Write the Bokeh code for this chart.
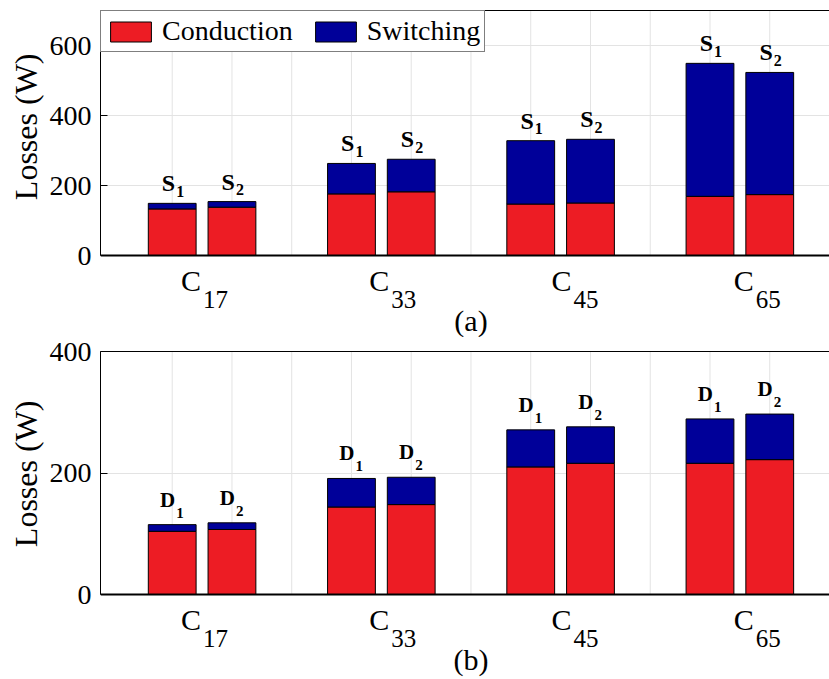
from bokeh.plotting import figure
from bokeh.layouts import column
from bokeh.models import (ColumnDataSource, FixedTicker, LinearAxis, Range1d,
                          Legend, LegendItem, Span, Title)
from bokeh.core.properties import value
from bokeh.embed import file_html
from bokeh.resources import INLINE

FONT = "Liberation Serif"
RED = "#ED1C24"
BLUE = "#000099"
GRID = "#e3e3e3"

# ---- data ----
config_subs = ["17", "33", "45", "65"]          # C_17, C_33, ...
config_tick_x = [1.5, 4.65, 7.7, 10.75]         # x tick positions of the group labels
device_subs = ["1", "2"]

igbt_conduction = [133, 138, 176, 182, 147, 150, 169, 174]
igbt_switching = [16, 16, 87, 93, 181, 182, 380, 349]

diode_conduction = [104, 107, 144, 148, 210, 216, 216, 222]
diode_switching = [11, 11, 47, 45, 61, 60, 73, 75]

legend_labels = ["Conduction", "Switching"]
y_label = "Losses (W)"
y_ticks_a = [0, 200, 400, 600]
y_ticks_b = [0, 200, 400]

bar_x = [3 * g + d + 1 for g in range(len(config_subs)) for d in range(len(device_subs))]
slot_x = list(range(1, 12))


def make_panel(cond, sw, letter, ymax, yticks, panel_text, border_top, plot_px,
               label_px, main_gap, sub_gap, main_size, sub_size, ylabel_offset,
               with_legend):
    ppu = plot_px / ymax                     # pixels per data unit
    ystart = -label_px / ppu
    height = border_top + plot_px + label_px
    p = figure(width=829, height=height, x_range=Range1d(-0.2, 12.0),
               y_range=Range1d(ystart, ymax), output_backend="svg",
               toolbar_location=None, min_border_left=100, min_border_right=0,
               min_border_top=border_top, min_border_bottom=0)
    p.outline_line_color = None
    p.background_fill_color = "white"
    p.border_fill_color = "white"

    total = [c + s for c, s in zip(cond, sw)]
    src = ColumnDataSource(dict(
        x=bar_x, cond=cond, sw=sw, total=total,
        main_y=[t + main_gap / ppu for t in total],
        sub_y=[t + sub_gap / ppu for t in total],
        main=[letter] * len(bar_x),
        sub=device_subs * len(config_subs),
    ))

    # vertical grid lines (only over the data area)
    p.segment(x0=slot_x, y0=[0] * len(slot_x), x1=slot_x, y1=[ymax] * len(slot_x),
              line_color=GRID, line_width=1, level="underlay")

    rs = p.vbar_stack(["cond", "sw"], x="x", width=0.8, source=src,
                      fill_color=[RED, BLUE], line_color="black", line_width=1)

    # bar labels (S1, S2 / D1, D2)
    p.text(x="x", y="main_y", text="main", source=src, text_align="right",
           text_baseline="alphabetic", x_offset=3,
           text_font=value(FONT), text_font_style="bold", text_font_size=main_size,
           text_color="black")
    p.text(x="x", y="sub_y", text="sub", source=src, text_align="left",
           text_baseline="alphabetic", x_offset=4,
           text_font=value(FONT), text_font_style="bold", text_font_size=sub_size,
           text_color="black")

    # x-axis baseline
    p.add_layout(Span(location=0, dimension="width", line_color="black", line_width=2))

    # group labels C_xx (inside the extended frame, below the baseline)
    gsrc = ColumnDataSource(dict(
        x=config_tick_x, main=["C"] * len(config_subs), sub=config_subs,
        main_y=[-25 / ppu] * len(config_subs), sub_y=[-44 / ppu] * len(config_subs),
    ))
    p.text(x="x", y="main_y", text="main", source=gsrc, text_align="right",
           text_baseline="alphabetic", x_offset=-1, text_font=value(FONT),
           text_font_size="30px", text_color="black")
    p.text(x="x", y="sub_y", text="sub", source=gsrc, text_align="left",
           text_baseline="alphabetic", x_offset=1, text_font=value(FONT),
           text_font_size="25px", text_color="black")

    # panel caption (a)/(b)
    p.text(x=[6], y=[-65 / ppu], text=[panel_text], text_align="center",
           text_baseline="alphabetic", text_font=value(FONT),
           text_font_size="30px", text_color="black")

    # y axis
    ya = p.yaxis[0]
    ya.ticker = FixedTicker(ticks=yticks)
    ya.bounds = (0, ymax)
    ya.major_tick_in = 7
    ya.major_tick_out = 0
    ya.major_tick_line_color = "black"
    ya.minor_tick_line_color = None
    ya.axis_line_color = "black"
    ya.axis_line_width = 1
    ya.major_label_text_font = FONT
    ya.major_label_text_font_size = "28px"
    ya.major_label_text_color = "black"
    ya.major_label_standoff = 9

    # y label as a side title (serif, positioned over the data area)
    p.add_layout(Title(text=y_label, align="right", offset=ylabel_offset,
                       text_font=FONT, text_font_size="32px",
                       text_font_style="normal", text_color="black",
                       standoff=5), "left")

    p.xaxis.visible = False
    p.xgrid.visible = False
    p.ygrid.grid_line_color = GRID

    top = LinearAxis(ticker=FixedTicker(ticks=[]), axis_line_color="black",
                     axis_line_width=1, major_tick_line_color=None,
                     minor_tick_line_color=None, major_label_standoff=0,
                     major_label_text_font_size="0px")
    p.add_layout(top, "above")

    if with_legend:
        legend = Legend(items=[LegendItem(label=legend_labels[0], renderers=[rs[0]]),
                               LegendItem(label=legend_labels[1], renderers=[rs[1]])],
                        location="top_left", orientation="horizontal")
        legend.margin = 0
        legend.padding = 4
        legend.spacing = 17
        legend.label_standoff = 6
        legend.glyph_width = 51
        legend.glyph_height = 25
        legend.label_text_font = FONT
        legend.label_text_font_size = "28px"
        legend.label_text_color = "black"
        legend.border_line_color = "black"
        legend.border_line_width = 1
        legend.background_fill_alpha = 1
        p.add_layout(legend)
    return p


pa = make_panel(igbt_conduction, igbt_switching, "S", 700, y_ticks_a, "(a)",
                border_top=10, plot_px=245, label_px=82,
                main_gap=20, sub_gap=12, main_size="24px", sub_size="16px",
                ylabel_offset=43, with_legend=True)
pb = make_panel(diode_conduction, diode_switching, "D", 400, y_ticks_b, "(b)",
                border_top=14, plot_px=243, label_px=85,
                main_gap=25, sub_gap=12, main_size="21px", sub_size="15px",
                ylabel_offset=49, with_legend=False)

layout = column(pa, pb, spacing=0)
open("out.html", "w").write(file_html(layout, INLINE))
